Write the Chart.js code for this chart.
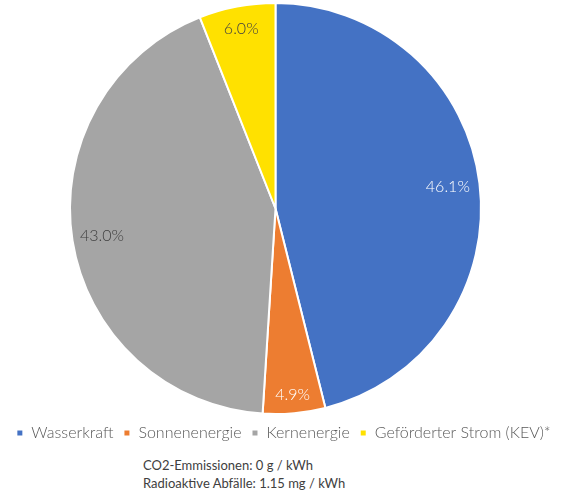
<!DOCTYPE html>
<html>
<head>
<meta charset="utf-8">
<script src="https://cdn.jsdelivr.net/npm/chart.js@4.4.1/dist/chart.umd.min.js"></script>
<style>
  html, body { margin: 0; padding: 0; background: #fff; }
  #wrap { position: relative; width: 567px; height: 451px; }
  .note { padding-left: 143px; font-family: Lato, sans-serif; font-size: 13px; color: #404040; line-height: 18px; margin-top: 5px; }
</style>
</head>
<body>
<div id="wrap"><canvas id="chart"></canvas></div>
<div class="note">CO2-Emmissionen: 0 g / kWh<br>Radioaktive Abfälle: 1.15 mg / kWh</div>
<script>
const categories = ['Wasserkraft', 'Sonnenenergie', 'Kernenergie', 'Geförderter Strom (KEV)*'];
const shares = [46.1, 4.9, 43.0, 6.0];
const colors = ['#4472C4', '#ED7D31', '#A5A5A5', '#FFE100'];
const labelColors = ['#ffffff', '#ffffff', '#404040', '#404040'];
const labelRadius = [0.845, 0.91, 0.855, 0.89]; // roughly where Excel put each label

// draws the percentage labels inside the slices
const sliceLabels = {
  id: 'sliceLabels',
  afterDatasetsDraw(chart) {
    const ctx = chart.ctx;
    const meta = chart.getDatasetMeta(0);
    ctx.save();
    ctx.font = '300 16px Lato, sans-serif';
    ctx.textAlign = 'center';
    ctx.textBaseline = 'middle';
    meta.data.forEach((arc, i) => {
      const p = arc.getProps(['x', 'y', 'startAngle', 'endAngle', 'outerRadius'], true);
      const mid = (p.startAngle + p.endAngle) / 2;
      const r = p.outerRadius * labelRadius[i];
      ctx.fillStyle = labelColors[i];
      ctx.fillText(shares[i].toFixed(1) + '%', p.x + Math.cos(mid) * r, p.y + Math.sin(mid) * r);
    });
    ctx.restore();
  }
};

// pie sits a bit left of the legend centre in the original
const nudgePie = {
  id: 'nudgePie',
  afterLayout(chart) {
    chart.chartArea.right -= 16;
    chart.chartArea.width -= 16;
  }
};

new Chart(document.getElementById('chart'), {
  type: 'pie',
  data: {
    labels: categories,
    datasets: [{
      data: shares,
      backgroundColor: colors,
      borderColor: '#ffffff',
      borderWidth: 2
    }]
  },
  options: {
    responsive: true,
    maintainAspectRatio: false,
    animation: false,
    layout: { padding: { top: 2, bottom: 0 } },
    plugins: {
      legend: {
        position: 'bottom',
        labels: {
          boxWidth: 7,
          boxHeight: 7,
          padding: 10,
          color: '#595959',
          font: { family: 'Lato, sans-serif', size: 16, weight: '300' }
        }
      },
      tooltip: { enabled: false }
    }
  },
  plugins: [nudgePie, sliceLabels]
});
</script>
</body>
</html>
